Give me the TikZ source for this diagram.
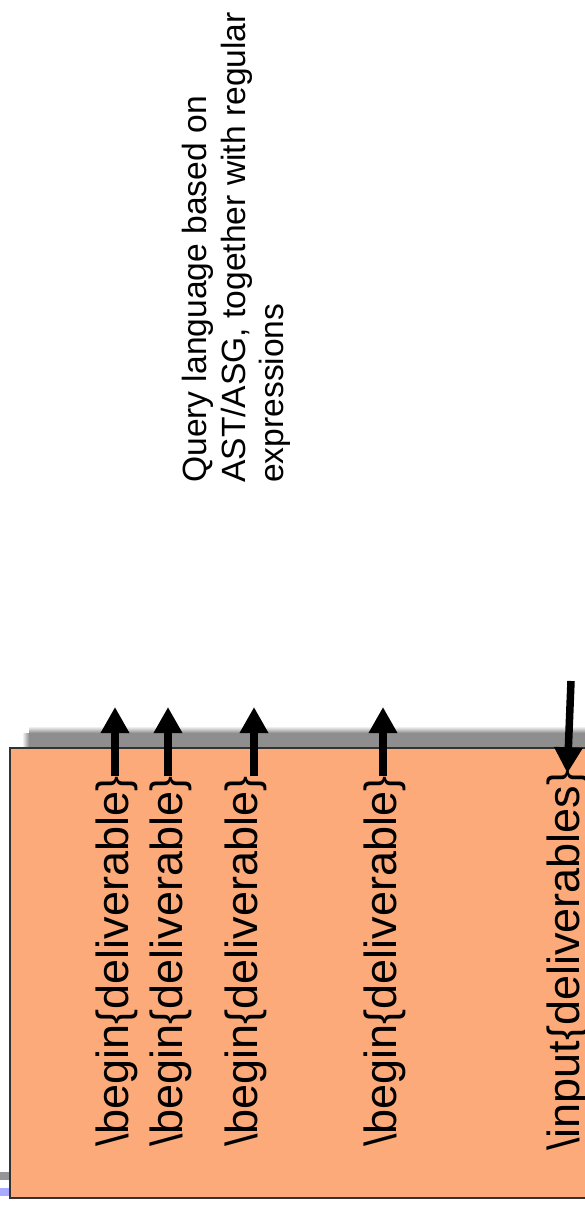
\documentclass[tikz,border=0pt]{standalone}
\usepackage{fontspec}
\setmainfont{Liberation Sans}
\usetikzlibrary{arrows.meta}
\definecolor{boxfill}{RGB}{252,170,122}
\definecolor{shadowgray}{RGB}{142,142,142}
\definecolor{barblue}{RGB}{170,170,255}
\definecolor{bargray}{RGB}{150,150,150}
\definecolor{boxline}{RGB}{50,50,50}
\begin{document}
\begin{tikzpicture}[x=1pt,y=-1pt,
  deliv/.style={rotate=90, anchor=base west, inner sep=0pt, font=\fontsize{45}{54}\selectfont},
  qtext/.style={rotate=90, anchor=base west, inner sep=0pt, font=\fontsize{33.6}{39}\selectfont},
  arr/.style={line width=7.5pt, -{Triangle[width=27pt,length=26pt]}},
  panel/.style={draw=boxline, line width=1.3pt, fill=boxfill}
]
\useasboundingbox (0,0) rectangle (585,1205);
\clip (0,0) rectangle (585,1205);
% shadow of the panel
\fill[shadowgray] (29,733) rectangle (600,1181);
\shade[top color=white, bottom color=shadowgray] (29,726) rectangle (600,733);
\shade[left color=white, right color=shadowgray] (22,733) rectangle (29,1181);
% clipped bars at the left
\fill[bargray] (0,1172) rectangle (10,1180);
\fill[barblue] (0,1188) rectangle (10,1196);
% panel
\draw[panel] (10,748) rectangle (640,1198);
% texts
\node[deliv] (d1) at (128.5,1147) {\textbackslash begin\{deliverable\}};
\node[deliv] (d2) at (182.5,1147) {\textbackslash begin\{deliverable\}};
\node[deliv] (d3) at (257,1147) {\textbackslash begin\{deliverable\}};
\node[deliv] (d4) at (396,1147) {\textbackslash begin\{deliverable\}};
\node[deliv] (inp) at (579,1151) {\textbackslash input\{deliverables\}};
\node[qtext] (q1) at (206,483) {Query language based on};
\node[qtext] (q2) at (245.5,483) {AST/ASG, together with regular};
\node[qtext] (q3) at (283.5,483) {expressions};
% arrow ends
\coordinate (t1) at (115,707);
\coordinate (t2) at (168,707);
\coordinate (t3) at (254,707);
\coordinate (t4) at (383,707);
\coordinate (s5) at (571,681);
% arrows
\draw[arr] (t1 |- d1.east) -- (t1);
\draw[arr] (t2 |- d2.east) -- (t2);
\draw[arr] (t3 |- d3.east) -- (t3);
\draw[arr] (t4 |- d4.east) -- (t4);
\draw[arr] (s5) -- ([yshift=-3pt]inp.east);
\end{tikzpicture}
\end{document}
